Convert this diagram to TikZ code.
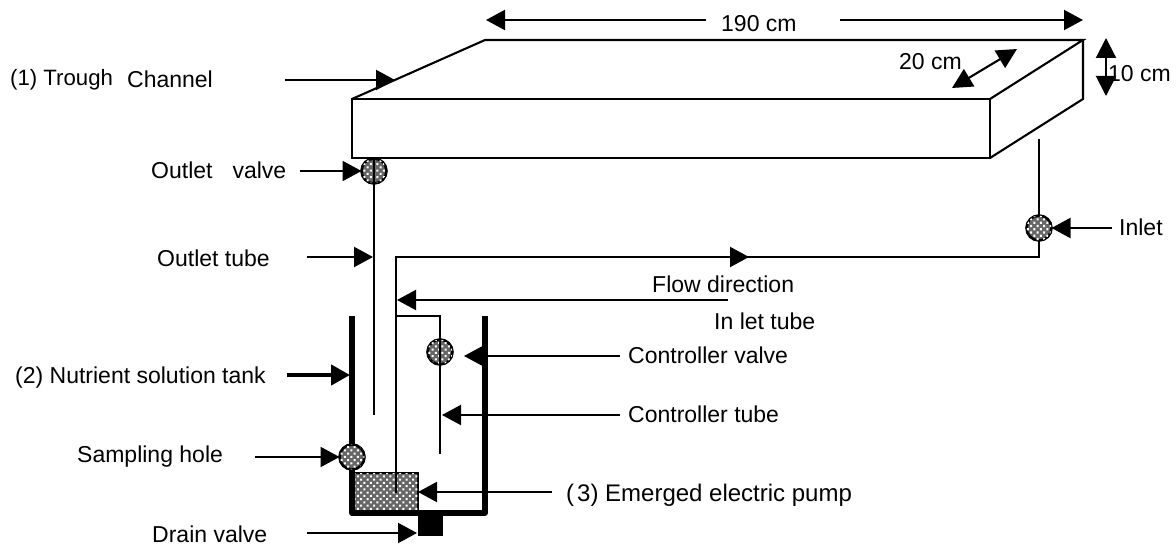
\documentclass[tikz,border=0pt]{standalone}
\usepackage{fontspec}
\setmainfont{Liberation Sans}
\usetikzlibrary{patterns.meta}
\usetikzlibrary{arrows.meta}
\tikzset{
  lbl/.style={inner sep=0pt, anchor=base west, font=\fontsize{23}{27}\selectfont},
  pipe/.style={line width=2.1pt},
  wall/.style={line width=5.2pt},
  callout/.style={line width=2.1pt, -{Triangle[length=19pt,width=20pt]}},
  twoway/.style={line width=2.1pt, {Triangle[length=20pt,width=20pt]}-{Triangle[length=20pt,width=20pt]}},
  dotted fill/.style={fill=black!60, postaction={pattern={Dots[radius=1.45pt,distance=4.6pt,angle=45]}, pattern color=white}},
  valve/.style={draw, circle, line width=2.6pt, minimum size=25pt, inner sep=0pt, outer sep=0pt, dotted fill},
}
\begin{document}
\begin{tikzpicture}[x=1pt, y=-1pt]
    \useasboundingbox (0,0) rectangle (1176,548);
    % Corners of the channel
    \coordinate (FTL) at (352,99);
    \coordinate (FTR) at (990,99);
    \coordinate (FBL) at (352,158);
    \coordinate (FBR) at (990,158);
    \coordinate (BTL) at (485,40);
    \coordinate (BTR) at (1083,40);
    \coordinate (BBR) at (1083,99);
    \draw[pipe] (FTL) -- (FTR) -- (FBR) -- (FBL) -- cycle;
    \draw[pipe] (FTL) -- (BTL) -- (BTR) -- (FTR);
    \draw[pipe] (BTR) -- (BBR) -- (FBR);

    % Tank and pump
    \node[draw, rectangle, line width=1.2pt, dotted fill, minimum width=65pt, minimum height=38pt, inner sep=0pt, outer sep=0pt] (Pump) at (385.5,492) {};
    \coordinate (TankL) at (352,316);
    \coordinate (TankBL) at (352,513);
    \coordinate (TankBR) at (485,513);
    \coordinate (TankR) at (485,316);
    \draw[wall, line join=round] (TankL) -- (TankBL) -- (TankBR) -- (TankR);
    \node[fill=black, rectangle, minimum width=25pt, minimum height=22pt, inner sep=0pt] (Drain) at (430,525) {};

    % Tubes and valves
    \coordinate (InletTop) at (1039,139);
    \coordinate (InletBend) at (1039,257);
    \coordinate (FlowBend) at (396,257);
    \coordinate (FlowEnd) at (396,493);
    \coordinate (FlowMid) at (749,257);
    \coordinate (OutletTop) at (374,159);
    \coordinate (OutletEnd) at (374,415);
    \coordinate (CtrlJoin) at (396,316);
    \coordinate (CtrlBend) at (440,316);
    \coordinate (CtrlEnd) at (440,454);
    \draw[pipe, line join=miter] (InletTop) -- (InletBend) -- (FlowBend) -- (FlowEnd);
    \node[valve] (InletV) at (1039,228) {};
    \node[valve] (OutletV) at (374,171) {};
    \node[valve] (CtrlV) at (440,352) {};
    \draw[pipe] (OutletTop) -- (OutletEnd);
    \draw[pipe, line join=miter] (CtrlJoin) -- (CtrlBend) -- (CtrlEnd);
    \draw[callout] (FlowBend) -- (FlowMid);
    \node[valve] (SampleV) at (352,457) {};

    % Labels
    \node[lbl, font=\fontsize{22.2}{27}\selectfont] (Trough) at (10,86) {(1) Trough};
    \node[lbl] (Channel) at (127,88) {Channel};
    \node[lbl] (OutV) at (151,179) {Outlet\hspace{20pt}valve};
    \node[lbl] (OutT) at (157,267) {Outlet tube};
    \node[lbl] (Tank) at (15,383) {(2) Nutrient solution tank};
    \node[lbl] (Sample) at (77,462) {Sampling hole};
    \node[lbl] (DrainL) at (152,542) {Drain valve};
    \node[lbl] (InletL) at (1119,236) {Inlet};
    \node[lbl] (FlowL) at (652,293) {Flow direction};
    \node[lbl] (InTube) at (714,330) {In let tube};
    \node[lbl] (CtrlVL) at (628,363) {Controller valve};
    \node[lbl] (CtrlTL) at (628,422) {Controller tube};
    \node[lbl, font=\fontsize{24}{27}\selectfont] (PumpL) at (566,501) {(\hspace{3pt}3) Emerged electric pump};
    \node[lbl] (Len) at (721,32) {190 cm};
    \node[lbl] (Wid) at (899,70) {20 cm};
    \node[lbl] (Hei) at (1108,82) {10 cm};

    % Callouts
    \coordinate (a1) at (285,80);
    \coordinate (a1t) at (395,80);
    \draw[callout] (a1) -- (a1t);
    \coordinate (a2) at (300,171);
    \draw[callout] (a2) -- (OutletV.west);
    \coordinate (a3) at (307,257);
    \coordinate (a3t) at (373,257);
    \draw[callout] (a3) -- (a3t);
    \coordinate (a4) at (728,300);
    \coordinate (a4t) at (397,300);
    \draw[callout] (a4) -- (a4t);
    \coordinate (a5) at (620,356);
    \coordinate (a5t) at (464,356);
    \draw[callout] (a5) -- (a5t);
    \coordinate (a6) at (620,415);
    \coordinate (a6t) at (442,415);
    \draw[callout] (a6) -- (a6t);
    \coordinate (a7) at (552,492);
    \draw[callout] (a7) -- (Pump.east);
    \coordinate (a8) at (307,533);
    \coordinate (a8t) at (417,533);
    \draw[callout] (a8) -- (a8t);
    \coordinate (a9) at (255,457);
    \draw[callout] (a9) -- (SampleV.west);
    \coordinate (a10) at (287,375);
    \coordinate (a10t) at (350,375);
    \draw[callout, line width=4.6pt] (a10) -- (a10t);
    \coordinate (a11) at (1112,228);
    \draw[callout] (a11) -- (InletV.east);
    \coordinate (a12) at (706,20);
    \coordinate (a12t) at (486,20);
    \draw[callout] (a12) -- (a12t);
    \coordinate (a13) at (840,20);
    \coordinate (a13t) at (1083,20);
    \draw[callout] (a13) -- (a13t);
    % Size arrows
    \coordinate (w1) at (952,88);
    \coordinate (w2) at (1017,49);
    \draw[twoway] (w1) -- (w2);
    \coordinate (h1) at (1106,38);
    \coordinate (h2) at (1106,96);
    \draw[twoway] (h1) -- (h2);
\end{tikzpicture}
\end{document}
